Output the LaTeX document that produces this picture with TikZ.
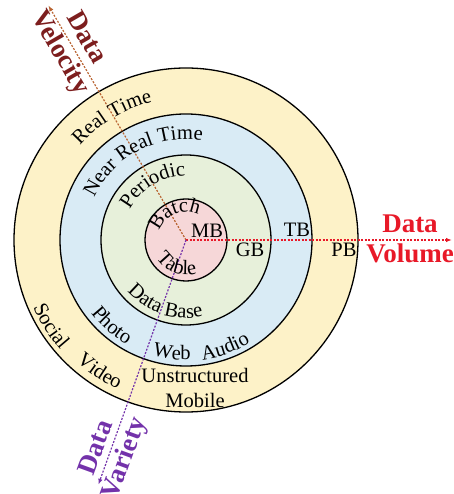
\documentclass[tikz,border=0pt]{standalone}
\usepackage{fontspec}
\setmainfont{Liberation Serif}
\usetikzlibrary{arrows.meta,decorations.text,calc}
\definecolor{ringY}{RGB}{253,242,200}
\definecolor{ringB}{RGB}{217,235,245}
\definecolor{ringG}{RGB}{231,240,218}
\definecolor{ringP}{RGB}{246,215,216}
\definecolor{velC}{RGB}{125,30,30}
\definecolor{velL}{RGB}{185,100,50}
\definecolor{volC}{RGB}{232,25,40}
\definecolor{varC}{RGB}{115,50,170}
\newcommand{\ringfont}{\fontsize{20.5}{22}\selectfont}
\newcommand{\axisfont}{\fontsize{27}{30}\selectfont\bfseries}
\begin{document}
\begin{tikzpicture}[x=1pt,y=1pt,
  ring/.style={circle, draw=black, line width=1.3pt, inner sep=0pt},
  axisline/.style={line width=1.2pt, dash pattern=on 2pt off 1.5pt, -{Latex[length=6pt,width=4.5pt]}},
  axislabel/.style={font=\axisfont, align=center, inner sep=0pt},
  flat/.style={font=\ringfont, inner sep=0pt},
  arctext/.style={decorate, decoration={text along path, text align=center, text={|\ringfont|#1}}}
]
\useasboundingbox (0,0) rectangle (453,494);
\coordinate (O) at (186,254);
\node[ring, fill=ringY, minimum size=344pt] (yellow) at (O) {};
\node[ring, fill=ringB, minimum size=252pt] (blue) at (O) {};
\node[ring, fill=ringG, minimum size=170pt] (green) at (O) {};
\node[ring, fill=ringP, minimum size=82pt] (pink) at (O) {};

% axes
\coordinate (velTip) at ($(O)+(120.4:272)$);
\coordinate (volTip) at (452,254);
\coordinate (varTip) at ($(O)+(250.3:260)$);
\draw[axisline, velL] (O) -- (velTip);
\draw[axisline, volC] (O) -- (volTip);
\draw[axisline, varC] (O) -- (varTip);

\node[axislabel, text=velC, rotate=-60] (velLabel) at ($(O)+(120.4:225)$) {Data\\Velocity};
\node[axislabel, text=volC] (volLabel) at (410,255) {Data\\Volume};
\node[axislabel, text=varC, rotate=70] (varLabel) at ($(O)+(250.8:226)$) {Data\\Variety};

% curved labels, top (clockwise)
\path[arctext={Real Time}] ($(O)+(191:142)$) arc[start angle=191, end angle=51, radius=142];
\path[arctext={Near Real Time}] ($(O)+(198:101)$) arc[start angle=198, end angle=38, radius=101];
\path[arctext={Periodic}] ($(O)+(201:64)$) arc[start angle=201, end angle=41, radius=64];
\path[arctext={Batch}] ($(O)+(193:28)$) arc[start angle=193, end angle=33, radius=28];
% curved labels, bottom (counter-clockwise)
\path[arctext={Table}] ($(O)+(170:35)$) arc[start angle=170, end angle=330, radius=35];
\path[arctext={Data Base}] ($(O)+(172:78)$) arc[start angle=172, end angle=332, radius=78];
\path[arctext={Photo}] ($(O)+(179:120)$) arc[start angle=179, end angle=279, radius=120];
\path[arctext={Web}] ($(O)+(223:120)$) arc[start angle=223, end angle=303, radius=120];
\path[arctext={Audio}] ($(O)+(250:121)$) arc[start angle=250, end angle=330, radius=121];
\path[arctext={Social}] ($(O)+(172.5:167)$) arc[start angle=172.5, end angle=252.5, radius=167];
\path[arctext={Video}] ($(O)+(196.7:164)$) arc[start angle=196.7, end angle=276.7, radius=164];

% straight labels
\node[flat] (mb) at (207,263) {MB};
\node[flat] (gb) at (250,244) {GB};
\node[flat] (tb) at (297,264) {TB};
\node[flat] (pb) at (344,244) {PB};
\node[flat] (unstr) at (195,119) {Unstructured};
\node[flat] (mobile) at (195,94) {Mobile};
\end{tikzpicture}
\end{document}
